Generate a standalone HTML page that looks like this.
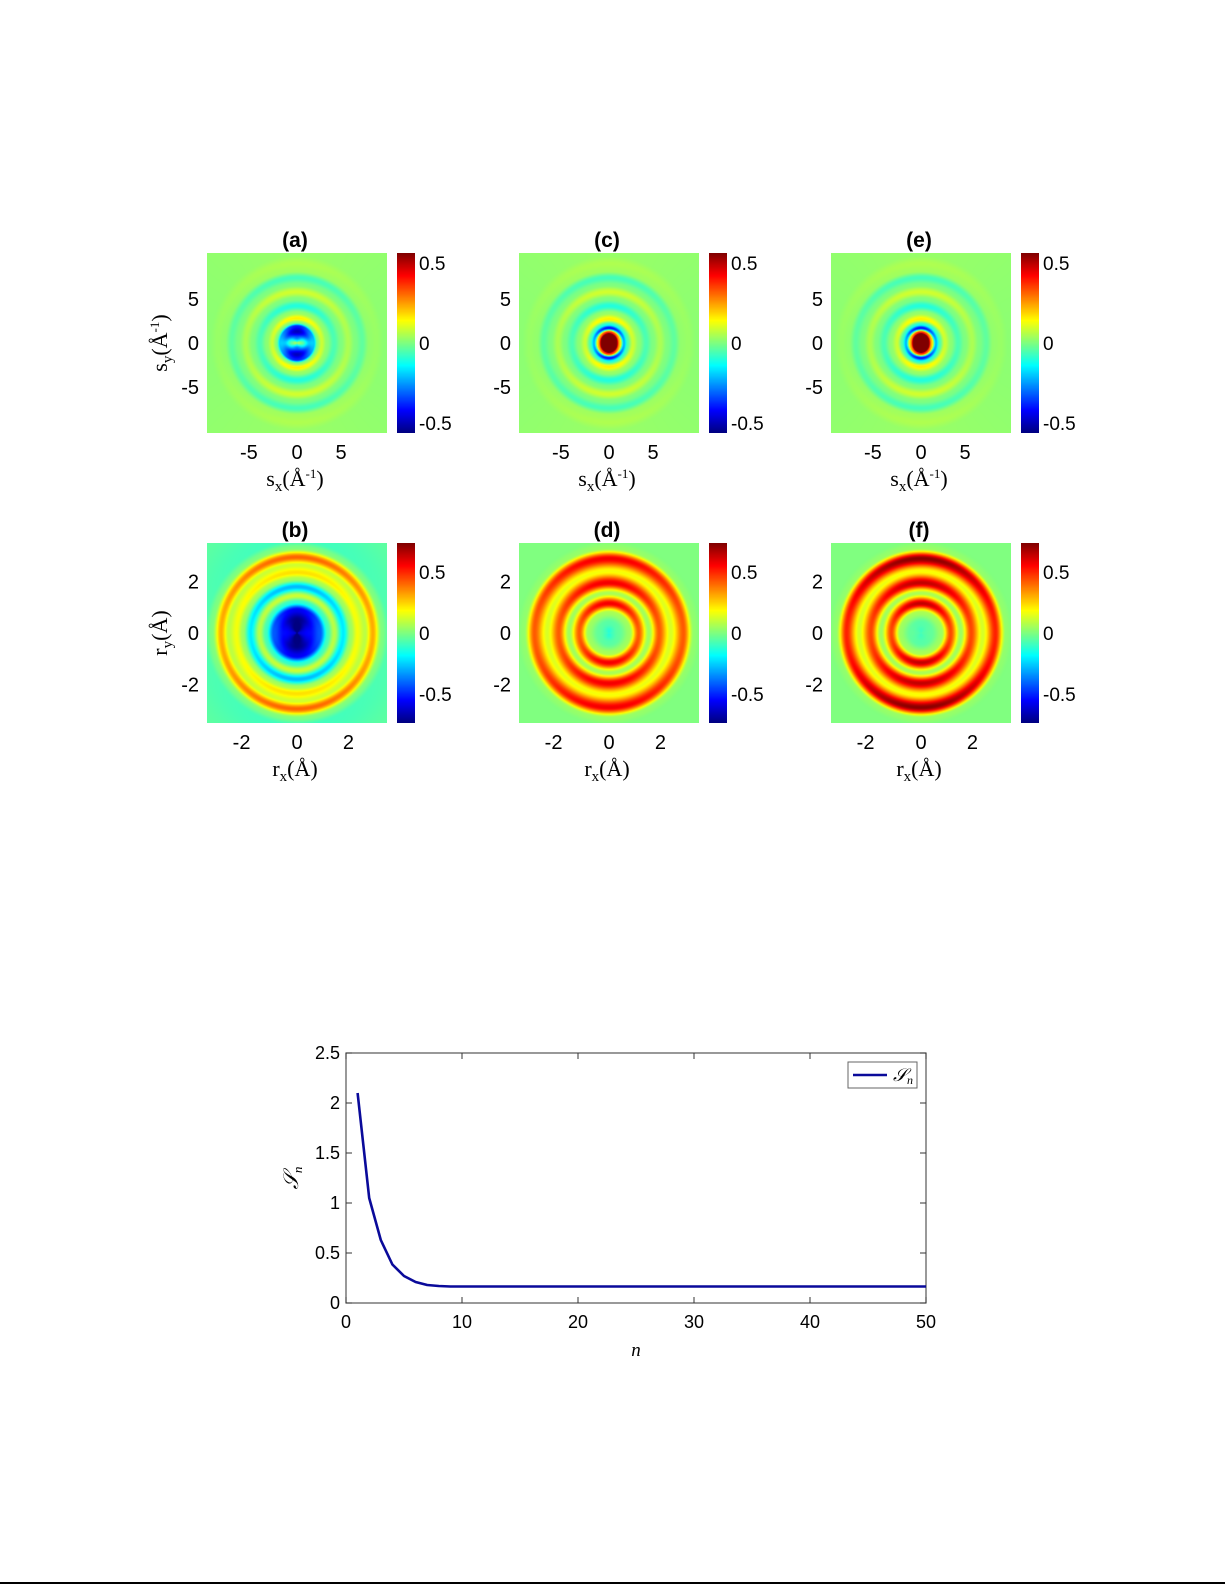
<!DOCTYPE html>
<html><head><meta charset="utf-8"><style>
html,body{margin:0;padding:0;background:#fff;}
#root{position:relative;width:1225px;height:1585px;overflow:hidden;font-family:"Liberation Sans",sans-serif;}
canvas{position:absolute;}
svg{position:absolute;left:0;top:0;}
</style></head><body>
<div id="root">
<svg id="svg" width="1225" height="1585"></svg>
</div>
<script>
// ---- heatmap radial profile data ----
const profARadius=[0,0.6,1.3,1.9,2.3,2.8,3.4,4.2,5.0,5.8,6.6,7.4,8.2,9,10,15];
const profAValue=[-0.2,-0.26,-0.38,-0.3,0,0.12,0.02,-0.08,0.0,0.07,0,-0.05,0.03,0.04,0.02,0.02];
const profCRadius=[0,0.8,1.2,1.7,2.1,2.7,3.4,4.2,5.0,5.8,6.6,7.4,8.2,9,10,15];
const profCValue=[0.9,0.9,0.3,-0.32,-0.08,0.12,0.02,-0.08,0.0,0.07,0,-0.05,0.03,0.04,0.02,0.02];
const profBRadius=[0,0.5,0.9,1.2,1.45,1.8,2.1,2.35,2.65,2.95,3.3,3.6,5];
const profBValue=[-0.72,-0.64,-0.5,-0.1,0.1,-0.25,0.05,0.2,0.1,0.36,0.0,-0.08,-0.05];
const profDRadius=[0,0.4,0.8,1.15,1.55,1.95,2.4,2.9,3.3,3.6,5];
const profDValue=[-0.12,-0.05,0.05,0.5,0.05,0.5,0.15,0.5,0.03,0,0];
const profFRadius=[0,0.4,0.8,1.15,1.55,1.95,2.4,2.9,3.3,3.6,5];
const profFValue=[-0.08,-0.05,0.05,0.55,0.05,0.55,0.15,0.62,0.03,0,0];
// ---- line chart data ----
const nValues=[];for(let i=1;i<=50;i++)nValues.push(i);
const sValues=[2.1,1.05,0.63,0.385,0.27,0.21,0.18,0.17,0.165,0.165,0.165,0.165,0.165,0.165,0.165,0.165,0.165,0.165,0.165,0.165,0.165,0.165,0.165,0.165,0.165,0.165,0.165,0.165,0.165,0.165,0.165,0.165,0.165,0.165,0.165,0.165,0.165,0.165,0.165,0.165,0.165,0.165,0.165,0.165,0.165,0.165,0.165,0.165,0.165,0.165];
const xTicks=[0,10,20,30,40,50];
const yTicks=[0,0.5,1,1.5,2,2.5];

const NS="http://www.w3.org/2000/svg";
const svg=document.getElementById('svg');
const root=document.getElementById('root');
function el(tag,attrs,parent){const e=document.createElementNS(NS,tag);for(const k in attrs)e.setAttribute(k,attrs[k]);(parent||svg).appendChild(e);return e;}
function txt(x,y,s,size,anchor,extra){const t=el('text',Object.assign({x:x,y:y,'font-size':size,'text-anchor':anchor||'middle','font-family':'"Liberation Sans",sans-serif',fill:'#000'},extra||{}));t.textContent=s;return t;}
function jet(v){
  function c(x){return Math.max(0,Math.min(1,x));}
  const r=c(1.5-Math.abs(4*v-3)),g=c(1.5-Math.abs(4*v-2)),b=c(1.5-Math.abs(4*v-1));
  return [r*255,g*255,b*255];
}
function interp(rs,vs,r){
  if(r>=rs[rs.length-1])return vs[vs.length-1];
  for(let i=0;i<rs.length-1;i++){if(r<=rs[i+1]){const t=(r-rs[i])/(rs[i+1]-rs[i]);const s=t*t*(3-2*t);return vs[i]+(vs[i+1]-vs[i])*s;}}
  return vs[vs.length-1];
}
function heat(name,x0,y0,ext,rs,vs,vmax,aniso,stripe){
  const cv=document.createElement('canvas');cv.width=180;cv.height=180;
  cv.style.left=x0+'px';cv.style.top=y0+'px';
  
  
  root.appendChild(cv);
  const ctx=cv.getContext('2d');const im=ctx.createImageData(180,180);
  for(let j=0;j<180;j++)for(let i=0;i<180;i++){
    const X=((i+0.5)/180*2-1)*ext,Y=((j+0.5)/180*2-1)*ext;
    const r=Math.sqrt(X*X+Y*Y);const s2=r>0?(Y*Y)/(r*r):0;
    let v=interp(rs,vs,r)*(1+aniso*(s2-0.5));
    if(stripe&&r<2)v+=stripe*Math.exp(-Y*Y/0.25)*(1-r/2);
    const c=jet(Math.max(0,Math.min(1,(v+vmax)/(2*vmax))));
    const k=(j*180+i)*4;im.data[k]=c[0];im.data[k+1]=c[1];im.data[k+2]=c[2];im.data[k+3]=255;
  }
  ctx.putImageData(im,0,0);
  el('rect',{x:x0+0.5,y:y0+0.5,width:179,height:179,fill:'none',stroke:'#3a6a3a','stroke-width':1});
}
function colorbar(name,x0,y0,vmax,ticks,labels){
  const cv=document.createElement('canvas');cv.width=18;cv.height=180;
  cv.style.left=x0+'px';cv.style.top=y0+'px';
  
  
  root.appendChild(cv);
  const ctx=cv.getContext('2d');
  for(let j=0;j<180;j++){const c=jet(1-(j+0.5)/180);ctx.fillStyle=`rgb(${c[0]|0},${c[1]|0},${c[2]|0})`;ctx.fillRect(0,j,18,1);}
  el('rect',{x:x0+0.5,y:y0+0.5,width:17,height:179,fill:'none',stroke:'#333','stroke-width':1});
  ticks.forEach((t,i)=>{const y=y0+90-t/vmax*90;
    el('line',{x1:x0,x2:x0+3,y1:y,y2:y,stroke:'#000'});el('line',{x1:x0+15,x2:x0+18,y1:y,y2:y,stroke:'#000'});
    const tt=txt(x0+22,y+7,labels[i],19,'start');});
}
function axes(x0,y0,ext,ticks,labels,title,xl,yl,showY){
  const sc=90/ext;
  ticks.forEach((t,i)=>{
    const x=x0+90+t*sc,y=y0+90-t*sc;
    el('line',{x1:x,x2:x,y1:y0+180,y2:y0+176,stroke:'#333'});el('line',{x1:x,x2:x,y1:y0,y2:y0+4,stroke:'#333'});
    el('line',{x1:x0,x2:x0+4,y1:y,y2:y,stroke:'#333'});el('line',{x1:x0+180,x2:x0+176,y1:y,y2:y,stroke:'#333'});
    txt(x-(labels[i][0]==='-'?4:0),y0+206,labels[i],20);
    txt(x0-8,y+7,labels[i],20,'end');
  });
  const t=txt(x0+88,y0-6,title,21,'middle',{'font-weight':'bold'});
  
  const xt=el('text',{x:x0+88,y:y0+233,'font-size':22,'text-anchor':'middle','font-family':'"Liberation Serif",serif'});
  xt.innerHTML=xl;
  if(showY){const yt=el('text',{x:0,y:0,'font-size':22,'text-anchor':'middle','font-family':'"Liberation Serif",serif',transform:`translate(${x0-40},${y0+90}) rotate(-90)`});
    yt.innerHTML=yl;}
}
const cols=[207,519,831];
const sx='s<tspan font-size="15" dy="5">x</tspan><tspan dy="-5">(Å</tspan><tspan font-size="13" dy="-8">-1</tspan><tspan dy="8">)</tspan>';
const sy='s<tspan font-size="15" dy="5">y</tspan><tspan dy="-5">(Å</tspan><tspan font-size="13" dy="-8">-1</tspan><tspan dy="8">)</tspan>';
const rx='r<tspan font-size="15" dy="5">x</tspan><tspan dy="-5">(Å)</tspan>';
const ry='r<tspan font-size="15" dy="5">y</tspan><tspan dy="-5">(Å)</tspan>';
const topP=[['a',profARadius,profAValue,0.6,0.22],['c',profCRadius,profCValue,0.6,0],['e',profCRadius,profCValue,0.6,0]];
const botP=[['b',profBRadius,profBValue,0.3,0],['d',profDRadius,profDValue,0.3,0],['f',profFRadius,profFValue,0.35,0]];
topP.forEach((p,i)=>{const x=cols[i];heat('heatmap-'+p[0],x,253,10.2,p[1],p[2],0.56,p[3],p[4]);
  axes(x,253,10.2,[-5,0,5],['-5','0','5'],'('+p[0]+')',sx,sy,i===0);
  colorbar('colorbar-'+p[0],x+190,253,0.5625,[0.5,0,-0.5],['0.5','0','-0.5']);});
botP.forEach((p,i)=>{const x=cols[i];heat('heatmap-'+p[0],x,543,3.5,p[1],p[2],0.74,p[3],p[4]);
  axes(x,543,3.5,[-2,0,2],['-2','0','2'],'('+p[0]+')',rx,ry,i===0);
  colorbar('colorbar-'+p[0],x+190,543,0.74,[0.5,0,-0.5],['0.5','0','-0.5']);});

// ---- line chart ----
const L=346,R=926,T=1053,B=1303;
const xs=v=>L+(v-0)/(50-0)*(R-L), ys=v=>B-(v-0)/(2.5-0)*(B-T);
const frame=el('rect',{x:L,y:T,width:R-L,height:B-T,fill:'#fff',stroke:'#555','stroke-width':1.2});

xTicks.forEach(v=>{const x=xs(v);el('line',{x1:x,x2:x,y1:B,y2:B-6,stroke:'#333'});el('line',{x1:x,x2:x,y1:T,y2:T+6,stroke:'#333'});
  const t=txt(x,B+25,String(v),18);});
yTicks.forEach(v=>{const y=ys(v);el('line',{x1:L,x2:L+6,y1:y,y2:y,stroke:'#333'});el('line',{x1:R,x2:R-6,y1:y,y2:y,stroke:'#333'});
  const t=txt(L-6,y+6,String(v),18,'end');});
const pts=nValues.map((n,i)=>xs(n).toFixed(1)+','+ys(sValues[i]).toFixed(1)).join(' ');
const line=el('polyline',{points:pts,fill:'none',stroke:'#0a0a9a','stroke-width':2.6,'stroke-linejoin':'round'});

const xl=el('text',{x:(L+R)/2,y:B+53,'font-size':19,'text-anchor':'middle','font-style':'italic','font-family':'"Liberation Serif",serif'});xl.textContent='n';

const yl=el('text',{x:0,y:0,'font-size':21,'text-anchor':'middle','font-style':'italic','font-family':'"Liberation Serif",serif',transform:`translate(${L-48},${(T+B)/2}) rotate(-90)`});
yl.innerHTML='𝒮<tspan font-size="13" dy="4">n</tspan>';
const lg=el('g',{});
el('rect',{x:848,y:1062,width:69,height:26,fill:'#fff',stroke:'#666','stroke-width':1},lg);
el('line',{x1:853,x2:887,y1:1075,y2:1075,stroke:'#0a0a9a','stroke-width':2.6},lg);
const lt=el('text',{x:893,y:1081,'font-size':18,'font-style':'italic','font-family':'"Liberation Serif",serif'},lg);
lt.innerHTML='𝒮<tspan font-size="12" dy="3">n</tspan>';
const bl=el('line',{x1:0,x2:1225,y1:1583,y2:1583,stroke:'#000','stroke-width':2});

</script>
</body></html>
